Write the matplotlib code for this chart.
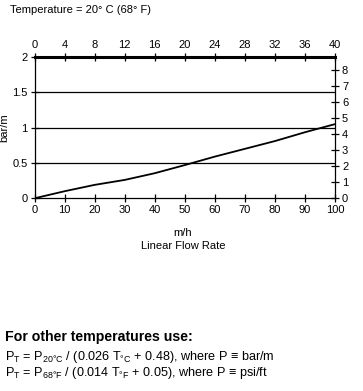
import matplotlib
matplotlib.use("Agg")
import matplotlib.pyplot as plt

plt.rcParams['font.family'] = ['Liberation Sans', 'DejaVu Sans']
plt.rcParams['mathtext.fontset'] = 'custom'
plt.rcParams['mathtext.rm'] = 'Liberation Sans'
plt.rcParams['mathtext.it'] = 'Liberation Sans'

# data
flow_rate = [0, 10, 20, 30, 40, 50, 60, 70, 80, 90, 100]          # m/h
pressure = [0, 0.1, 0.19, 0.26, 0.355, 0.47, 0.59, 0.70, 0.81, 0.935, 1.05]  # bar/m
bottom_ticks = list(range(0, 101, 10))
top_ticks = list(range(0, 41, 4))
left_ticks = [0, 0.5, 1, 1.5, 2]
right_ticks = list(range(0, 9))
PSI_PER_BAR = 4.42

FS = 8
fig = plt.figure(figsize=(3.63, 3.91), dpi=100)
ax = fig.add_axes([34.5 / 363, 1 - 198.3 / 391, (335 - 34.5) / 363, (198.3 - 57) / 391])

ax.plot(flow_rate, pressure, color="black", lw=1.3, solid_capstyle="butt")
ax.set_xlim(0, 100)
ax.set_ylim(0, 2)
for v in left_ticks[1:-1]:
    ax.axhline(v, color="black", lw=0.9)

ax.set_xticks(bottom_ticks)
ax.set_yticks(left_ticks)
ax.set_yticklabels(["0", "0.5", "1", "1.5", "2"])
ax.tick_params(direction="inout", length=6, width=0.9, labelsize=FS, pad=2)
ax.spines["top"].set_linewidth(2.2)
for s in ["left", "right", "bottom"]:
    ax.spines[s].set_linewidth(0.9)
ax.set_ylabel("bar/m", fontsize=FS, labelpad=2)

top = ax.twiny()
top.set_xlim(0, 40)
top.set_xticks(top_ticks)
top.tick_params(direction="inout", length=6, width=0.9, labelsize=FS, pad=2)
for s in top.spines.values():
    s.set_visible(False)

right = ax.twinx()
right.set_ylim(0, 2 * PSI_PER_BAR)
right.set_yticks(right_ticks)
right.tick_params(direction="inout", length=6, width=0.9, labelsize=FS, pad=2)
for s in right.spines.values():
    s.set_visible(False)

fig.text(10 / 363, 1 - 10 / 391, "Temperature = 20° C (68° F)", fontsize=FS,
         va="center", ha="left")
fig.text(183 / 363, 1 - 233 / 391, "m/h", fontsize=FS, va="center", ha="center")
fig.text(183 / 363, 1 - 246 / 391, "Linear Flow Rate", fontsize=FS, va="center", ha="center")

fig.text(5 / 363, 1 - 337 / 391, "For other temperatures use:", fontsize=10.2,
         fontweight="bold", va="center", ha="left")
fig.text(5 / 363, 1 - 357 / 391,
         r"P$_\mathrm{T}$ = P$_\mathrm{20°C}$ / (0.026 T$_\mathrm{°C}$ + 0.48), where P ≡ bar/m",
         fontsize=9.1, va="center", ha="left")
fig.text(5 / 363, 1 - 373 / 391,
         r"P$_\mathrm{T}$ = P$_\mathrm{68°F}$ / (0.014 T$_\mathrm{°F}$ + 0.05), where P ≡ psi/ft",
         fontsize=9.1, va="center", ha="left")

fig.savefig("out.png", dpi=100)
